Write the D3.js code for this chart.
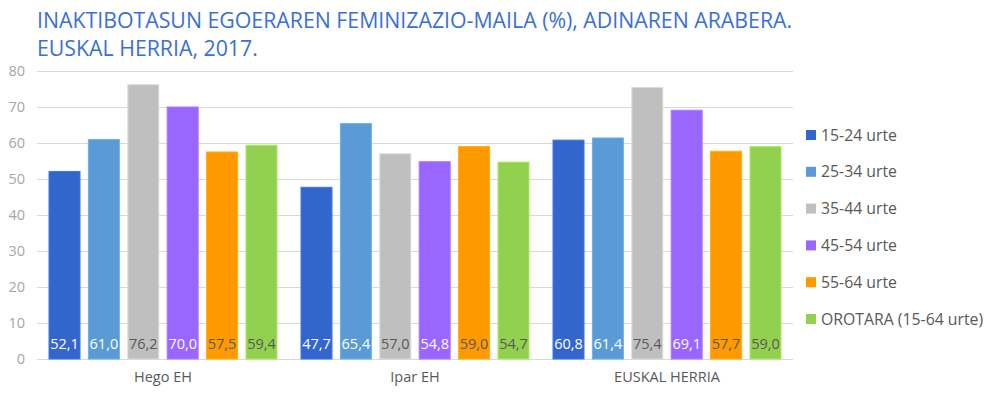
<!DOCTYPE html>
<html><head><meta charset="utf-8">
<script src="https://cdn.jsdelivr.net/npm/d3@7"></script>
<style>body{margin:0;background:#fff}svg{font-family:"Open Sans","Noto Sans",sans-serif}</style>
</head><body><svg id="c" width="1000" height="403"></svg>
<script>
const categories = ["Hego EH", "Ipar EH", "EUSKAL HERRIA"];
const series = ["15-24 urte", "25-34 urte", "35-44 urte", "45-54 urte", "55-64 urte", "OROTARA (15-64 urte)"];
const s1524 = [52.1, 47.7, 60.8];
const s2534 = [61.0, 65.4, 61.4];
const s3544 = [76.2, 57.0, 75.4];
const s4554 = [70.0, 54.8, 69.1];
const s5564 = [57.5, 59.0, 57.7];
const sTotal = [59.4, 54.7, 59.0];
const yTicks = [0, 10, 20, 30, 40, 50, 60, 70, 80];
const colors = ["#3366cc", "#5b9bd5", "#bfbfbf", "#9966ff", "#ff9900", "#92d050"];
const labelColors = ["#ffffff", "#ffffff", "#595959", "#ffffff", "#595959", "#595959"];
const values = [s1524, s2534, s3544, s4554, s5564, sTotal];

const svg = d3.select("#c");
const m = {l: 37, r: 793, t: 71, b: 359};
const x0 = d3.scaleBand().domain(categories).range([m.l, m.r]).paddingInner(0).paddingOuter(0);
const x1 = d3.scaleBand().domain(series).range([12, x0.bandwidth() - 12]).paddingInner(0.213).paddingOuter(0);
const y = d3.scaleLinear().domain([0, 80]).range([m.b, m.t]);

// title
const title = svg.append("text").attr("x", 37).attr("fill", "#3a6fd8").attr("font-size", 21.3);
title.append("tspan").attr("x", 37).attr("y", 28).text("INAKTIBOTASUN EGOERAREN FEMINIZAZIO-MAILA (%), ADINAREN ARABERA.");
title.append("tspan").attr("x", 37).attr("y", 56).text("EUSKAL HERRIA, 2017.");

// grid
svg.append("g").selectAll("line").data(yTicks).join("line")
  .attr("x1", m.l).attr("x2", m.r).attr("y1", d => y(d) + 0.5).attr("y2", d => y(d) + 0.5)
  .attr("stroke", "#d9d9d9").attr("stroke-width", 1);

// y axis labels
const yAxis = d3.axisLeft(y).tickValues(yTicks).tickSize(0).tickPadding(0);
const ya = svg.append("g").attr("transform", `translate(25,0)`).call(yAxis);
ya.select(".domain").remove();
ya.selectAll("text").attr("fill", "#a6a6a6").attr("font-size", 14.5).attr("font-family", "'Open Sans',sans-serif");

// bars
const g = svg.append("g");
categories.forEach((c, ci) => {
  series.forEach((s, si) => {
    const v = values[si][ci];
    const bx = x0(c) + x1(s);
    g.append("rect").attr("x", bx).attr("y", y(v)).attr("width", x1.bandwidth()).attr("height", y(0) - y(v))
      .attr("fill", colors[si]).attr("stroke", d3.color(colors[si]).brighter(0.4)).attr("stroke-width", 1);
    g.append("text").attr("x", bx + x1.bandwidth() / 2).attr("y", 348.5).attr("text-anchor", "middle")
      .attr("font-size", 14.5).attr("fill", labelColors[si]).text(v.toFixed(1).replace(".", ","));
  });
});

// x axis labels
const xAxis = d3.axisBottom(x0).tickSize(0).tickPadding(0);
const xa = svg.append("g").attr("transform", `translate(0,372)`).call(xAxis);
xa.select(".domain").remove();
xa.selectAll("text").attr("fill", "#595959").attr("font-size", 14.5).attr("font-family", "'Open Sans',sans-serif");

// legend
const lg = svg.append("g");
series.forEach((s, i) => {
  const cy = 135 + i * 36.8;
  lg.append("rect").attr("x", 806).attr("y", cy - 5).attr("width", 10).attr("height", 10).attr("fill", colors[i]);
  lg.append("text").attr("x", 821).attr("y", cy + 5.5).attr("font-size", 15.8).attr("fill", "#595959").text(s);
});
</script></body></html>
